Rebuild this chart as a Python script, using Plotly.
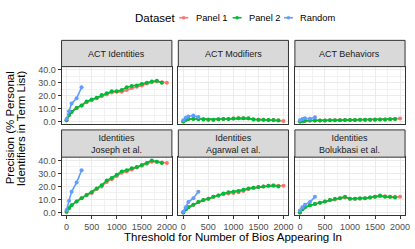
import plotly.graph_objects as go

# ---------------- data ----------------
thresholds_panel1 = [0, 50, 100, 200, 300, 400, 500, 600, 700, 800, 900, 1000,
                     1100, 1200, 1300, 1400, 1500, 1600, 1700, 1800, 1900, 2000]
thresholds_panel2 = [0, 50, 100, 200, 300, 400, 500, 600, 700, 800, 900, 1000,
                     1100, 1200, 1300, 1400, 1500, 1600, 1700, 1800, 1900]
thresholds_random = [0, 50, 100, 200, 300]

facet_labels = ["ACT Identities", "ACT Modifiers", "ACT Behaviors",
                "Identities<br>Joseph et al.", "Identities<br>Agarwal et al.",
                "Identities<br>Bolukbasi et al."]

act_identities_p1 = [1.0, 5.0, 7.5, 10.5, 12.5, 15.0, 16.5, 18.0, 19.5, 21.0, 22.5, 23.0,
                     23.0, 24.5, 26.0, 27.0, 28.0, 29.5, 30.5, 31.0, 30.5, 30.0]
act_identities_p2 = [1.0, 5.0, 7.5, 10.5, 12.5, 15.5, 17.0, 18.5, 20.5, 22.0, 23.5, 23.5,
                     24.5, 26.5, 27.5, 28.0, 29.0, 30.0, 31.0, 31.5, 30.0]
act_identities_rand = [2.0, 8.0, 14.0, 18.0, 26.5]

act_modifiers_p1 = [0.0, 1.5, 2.0, 2.3, 2.5, 2.0, 1.6, 1.5, 1.8, 2.0, 2.0, 2.3,
                    2.5, 2.5, 2.3, 1.8, 1.5, 1.5, 1.3, 1.2, 1.0, 0.5]
act_modifiers_p2 = [0.0, 1.5, 2.0, 2.0, 1.8, 1.6, 1.5, 1.5, 1.8, 2.0, 2.0, 2.3,
                    2.5, 2.5, 2.5, 1.6, 1.5, 1.5, 1.3, 1.3, 0.8]
act_modifiers_rand = [1.0, 3.0, 4.0, 4.7, 3.5]

act_behaviors_p1 = [0.0, 0.5, 0.7, 0.8, 0.8, 0.9, 0.9, 1.0, 1.1, 1.2, 1.2, 1.3,
                    1.3, 1.4, 1.5, 1.5, 1.6, 1.6, 1.7, 1.8, 2.0, 2.3]
act_behaviors_p2 = [0.0, 0.5, 0.7, 0.8, 0.8, 0.9, 0.9, 1.0, 1.0, 1.1, 1.2, 1.2,
                    1.3, 1.4, 1.5, 1.4, 1.5, 1.6, 1.7, 1.8, 2.0]
act_behaviors_rand = [1.0, 2.0, 2.5, 2.2, 3.3]

joseph_p1 = [0.5, 3.5, 5.5, 8.5, 11.0, 13.5, 15.0, 18.0, 20.0, 23.5, 25.5, 28.0,
             30.5, 31.5, 33.0, 34.5, 36.0, 37.5, 39.0, 39.0, 38.5, 38.0]
joseph_p2 = [0.5, 3.5, 5.5, 8.5, 11.0, 13.5, 15.5, 18.5, 21.0, 24.5, 26.5, 29.0,
             31.5, 32.5, 34.0, 35.0, 36.5, 38.0, 40.0, 39.0, 38.0]
joseph_rand = [2.0, 9.0, 16.0, 23.0, 32.5]

agarwal_p1 = [0.0, 2.5, 4.0, 6.0, 8.0, 9.5, 10.5, 12.0, 13.0, 14.0, 14.5, 15.0,
              15.5, 16.5, 18.0, 19.0, 19.5, 20.0, 20.5, 21.0, 20.5, 20.5]
agarwal_p2 = [0.0, 2.5, 4.0, 6.0, 8.0, 9.5, 10.5, 12.0, 13.0, 14.5, 15.5, 16.0,
              16.5, 17.5, 18.5, 19.0, 19.5, 20.0, 20.5, 20.5, 20.0]
agarwal_rand = [0.5, 4.0, 8.0, 11.0, 16.0]

bolukbasi_p1 = [0.0, 2.5, 4.0, 5.5, 6.5, 7.5, 8.5, 9.5, 10.0, 11.0, 11.5, 10.5,
                10.5, 10.5, 11.0, 11.5, 12.0, 12.5, 12.5, 12.0, 12.0, 12.0]
bolukbasi_p2 = [0.0, 2.5, 4.0, 5.5, 6.5, 7.5, 8.5, 9.5, 10.5, 11.0, 12.0, 10.5,
                10.5, 11.0, 11.0, 11.5, 12.0, 13.0, 12.0, 12.0, 11.5]
bolukbasi_rand = [1.5, 4.0, 6.0, 8.0, 12.0]

series_names = ["Panel 1", "Panel 2", "Random"]
series_colors = ["#F8766D", "#00BA38", "#619CFF"]
x_tick_vals = [0, 500, 1000, 1500, 2000]
y_tick_vals = [0, 10, 20, 30, 40]

panels = [
    (act_identities_p1, act_identities_p2, act_identities_rand),
    (act_modifiers_p1, act_modifiers_p2, act_modifiers_rand),
    (act_behaviors_p1, act_behaviors_p2, act_behaviors_rand),
    (joseph_p1, joseph_p2, joseph_rand),
    (agarwal_p1, agarwal_p2, agarwal_rand),
    (bolukbasi_p1, bolukbasi_p2, bolukbasi_rand),
]

# ---------------- layout geometry (pixels) ----------------
W, H = 415, 249
col_px = [(62.3, 174.0), (180.5, 292.0), (298.5, 410.0)]
row_plot_px = [(65.7, 124.3), (157.7, 216.7)]
row_strip_px = [(39.0, 65.7), (130.0, 157.7)]

def px_x(v):
    return v / W

def px_y(v):
    return 1 - v / H

FONT = "Liberation Sans, Arial, Helvetica, sans-serif"
fig = go.Figure()
shapes = []
annotations = []

for i, (p1, p2, rnd) in enumerate(panels):
    r, c = divmod(i, 3)
    n = i + 1
    xa = "x" if n == 1 else f"x{n}"
    ya = "y" if n == 1 else f"y{n}"
    for vals, xs, name, col in [(p1, thresholds_panel1, series_names[0], series_colors[0]),
                                (p2, thresholds_panel2, series_names[1], series_colors[1]),
                                (rnd, thresholds_random, series_names[2], series_colors[2])]:
        fig.add_trace(go.Scatter(
            x=xs, y=vals, mode="lines+markers", name=name, showlegend=False,
            line=dict(color=col, width=1.6),
            marker=dict(color=col, size=4),
            xaxis=xa, yaxis=ya))

    x0, x1 = col_px[c]
    y0, y1 = row_plot_px[r]
    xkey = "xaxis" if n == 1 else f"xaxis{n}"
    ykey = "yaxis" if n == 1 else f"yaxis{n}"
    fig.update_layout(**{
        xkey: dict(domain=[px_x(x0), px_x(x1)], anchor=ya, range=[-100, 2100],
                   tickvals=x_tick_vals, showticklabels=(r == 1),
                   ticks="outside" if r == 1 else "", ticklen=3, tickcolor="#333333",
                   tickfont=dict(size=9, color="#4D4D4D", family=FONT),
                   showgrid=True, gridcolor="#EBEBEB", gridwidth=1,
                   minor=dict(dtick=250, tick0=0, showgrid=True, gridcolor="#F2F2F2", gridwidth=0.6),
                   showline=True, mirror=True, linecolor="#333333", linewidth=1,
                   zeroline=False, fixedrange=True),
        ykey: dict(domain=[px_y(y1), px_y(y0)], anchor=xa, range=[-2.1, 42.5],
                   tickvals=y_tick_vals, tickformat=".1f", ticksuffix="%",
                   showticklabels=(c == 0),
                   ticks="outside" if c == 0 else "", ticklen=3, tickcolor="#333333",
                   tickfont=dict(size=9, color="#4D4D4D", family=FONT),
                   showgrid=True, gridcolor="#EBEBEB", gridwidth=1,
                   minor=dict(dtick=5, tick0=0, showgrid=True, gridcolor="#F2F2F2", gridwidth=0.6),
                   showline=True, mirror=True, linecolor="#333333", linewidth=1,
                   zeroline=False, fixedrange=True),
    })

    sy0, sy1 = row_strip_px[r]
    shapes.append(dict(type="rect", xref="paper", yref="paper",
                       x0=px_x(x0), x1=px_x(x1), y0=px_y(sy1), y1=px_y(sy0),
                       fillcolor="#D9D9D9", line=dict(color="#333333", width=1)))
    annotations.append(dict(text=facet_labels[i], xref="paper", yref="paper",
                            x=px_x((x0 + x1) / 2), y=px_y((sy0 + sy1) / 2),
                            xanchor="center", yanchor="middle", showarrow=False,
                            font=dict(size=9, color="#1A1A1A", family=FONT)))

# axis titles
annotations.append(dict(text="Threshold for Number of Bios Appearing In", xref="paper", yref="paper",
                        x=px_x(236), y=px_y(238.5), xanchor="center", yanchor="middle",
                        showarrow=False, font=dict(size=11.5, color="black", family=FONT)))
annotations.append(dict(text="Precision (% Personal", xref="paper", yref="paper",
                        x=px_x(10.5), y=px_y(128), xanchor="center", yanchor="middle",
                        textangle=-90, showarrow=False,
                        font=dict(size=11.5, color="black", family=FONT)))
annotations.append(dict(text="Identifiers in Term List)", xref="paper", yref="paper",
                        x=px_x(21.5), y=px_y(128), xanchor="center", yanchor="middle",
                        textangle=-90, showarrow=False,
                        font=dict(size=11.5, color="black", family=FONT)))

# legend (drawn as keys next to the series names)
annotations.append(dict(text="Dataset", xref="paper", yref="paper",
                        x=px_x(135), y=px_y(16), xanchor="left", yanchor="middle",
                        showarrow=False, font=dict(size=11.5, color="black", family=FONT)))
key_x = [181.5, 235.5, 287.5]
for name, col, kx in zip(series_names, series_colors, key_x):
    shapes.append(dict(type="line", xref="paper", yref="paper",
                       x0=px_x(kx), x1=px_x(kx + 9), y0=px_y(16), y1=px_y(16),
                       line=dict(color=col, width=1.6)))
    shapes.append(dict(type="circle", xref="paper", yref="paper",
                       x0=px_x(kx + 3), x1=px_x(kx + 6), y0=px_y(17.5), y1=px_y(14.5),
                       fillcolor=col, line=dict(color=col, width=0.5)))
    annotations.append(dict(text=name, xref="paper", yref="paper",
                            x=px_x(kx + 14.5), y=px_y(16), xanchor="left", yanchor="middle",
                            showarrow=False, font=dict(size=9.3, color="black", family=FONT)))

fig.update_layout(
    width=W, height=H, margin=dict(l=0, r=0, t=0, b=0),
    paper_bgcolor="white", plot_bgcolor="white",
    shapes=shapes, annotations=annotations, showlegend=False,
    font=dict(family=FONT),
)

fig.write_html("out.html", config={"displayModeBar": False},
               post_script="document.body.style.margin='0';document.body.style.overflow='hidden';")
